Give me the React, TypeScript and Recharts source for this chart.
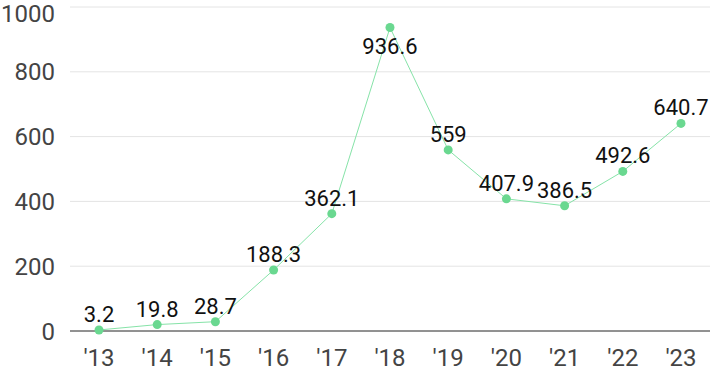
import {
  CartesianGrid,
  LabelList,
  Line,
  LineChart,
  XAxis,
  YAxis,
} from "recharts";

const years = ["'13", "'14", "'15", "'16", "'17", "'18", "'19", "'20", "'21", "'22", "'23"];
const values = [3.2, 19.8, 28.7, 188.3, 362.1, 936.6, 559, 407.9, 386.5, 492.6, 640.7];
const yTicks = [0, 200, 400, 600, 800, 1000];

const data = years.map((year, i) => ({ year, value: values[i] }));

const FONT = "Roboto, 'Noto Sans', sans-serif";

function PointLabel({ x, y, value }: any) {
  // labels go above the point, unless that would clip at the top
  const below = y < 40;
  return (
    <text
      x={x}
      y={below ? y + 26 : y - 8}
      textAnchor="middle"
      fill="#111"
      fontSize={22}
      fontFamily={FONT}
    >
      {value}
    </text>
  );
}

export default function App() {
  return (
    <div style={{ position: "fixed", left: 0, top: 0, background: "#fff" }}>
      <LineChart
        width={710}
        height={371}
        data={data}
        margin={{ top: 7, right: 0, bottom: 0, left: 0 }}
      >
        <CartesianGrid vertical={false} stroke="#e4e4e4" />
        <XAxis
          dataKey="year"
          height={40}
          padding={{ left: 29, right: 29 }}
          axisLine={{ stroke: "#333" }}
          tickLine={false}
          tickMargin={12}
          tick={{ fill: "#444", fontSize: 24, fontFamily: FONT }}
          interval={0}
        />
        <YAxis
          width={70}
          domain={[0, 1000]}
          ticks={yTicks}
          axisLine={false}
          tickLine={false}
          tickMargin={9}
          tick={{ fill: "#444", fontSize: 24, fontFamily: FONT }}
        />
        <Line
          dataKey="value"
          stroke="#86e3a8"
          strokeWidth={1}
          dot={{ r: 4.5, fill: "#6ad890", stroke: "none" }}
          activeDot={false}
          isAnimationActive={false}
        >
          <LabelList dataKey="value" content={<PointLabel />} />
        </Line>
      </LineChart>
    </div>
  );
}
